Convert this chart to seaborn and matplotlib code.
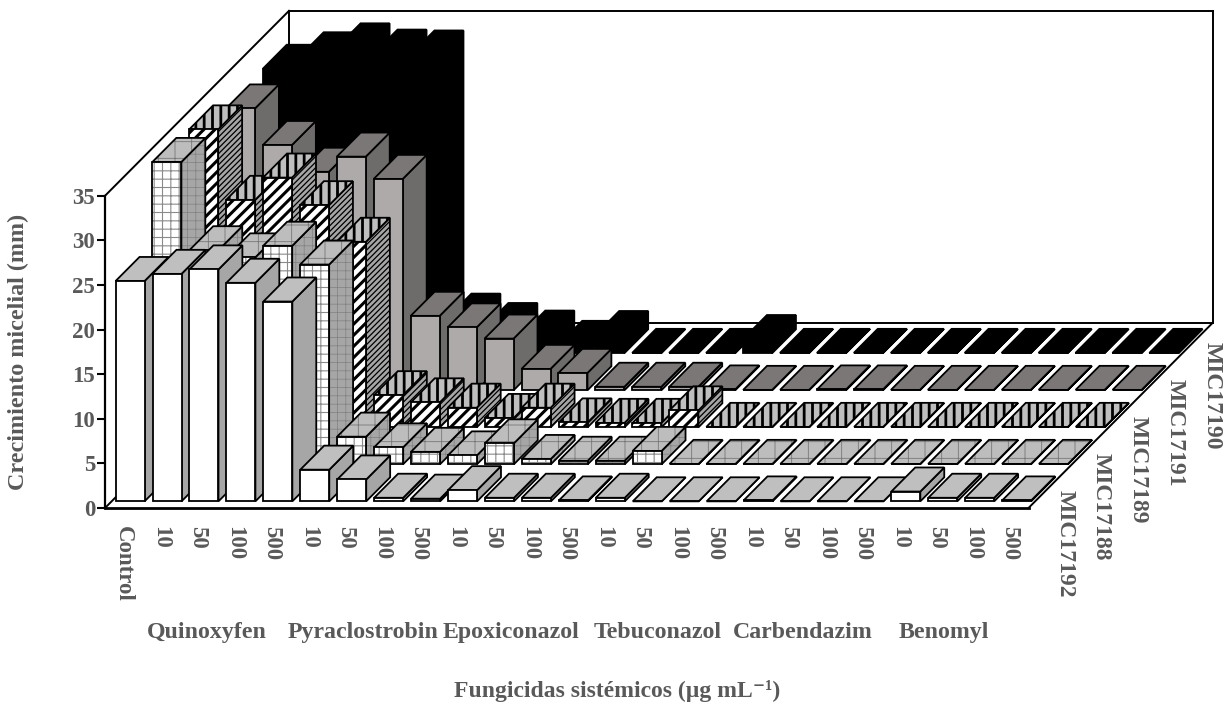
import matplotlib
matplotlib.use("Agg")
import matplotlib as mpl
import matplotlib.pyplot as plt
import pandas as pd
import seaborn as sns

doses = ["Control", "10", "50", "100", "500", "10", "50", "100", "500", "10", "50", "100", "500",
         "10", "50", "100", "500", "10", "50", "100", "500", "10", "50", "100", "500"]
fungicides = ["Quinoxyfen", "Pyraclostrobin", "Epoxiconazol", "Tebuconazol", "Carbendazim", "Benomyl"]
isolates = ["MIC17192", "MIC17188", "MIC17189", "MIC17191", "MIC17190"]

mic17192 = [24.7, 25.5, 26.0, 24.5, 22.4, 3.55, 2.45, 0.4, 0.3, 1.25, 0.4, 0.4, 0.1,
            0.4, 0, 0, 0, 0.1, 0, 0, 0, 1.1, 0.4, 0.4, 0.1]
mic17188 = [33.9, 24.0, 23.2, 24.5, 22.4, 3.1, 1.9, 1.4, 1.0, 2.35, 0.6, 0.4, 0.4,
            1.5, 0.05, 0.05, 0.05, 0.05, 0.05, 0.05, 0.05, 0.05, 0.05, 0.05, 0.05]
mic17189 = [33.4, 25.5, 28.0, 24.9, 20.8, 3.6, 2.8, 2.2, 1.05, 2.2, 0.55, 0.5, 0.5,
            1.9, 0.05, 0.05, 0.05, 0.05, 0.05, 0.05, 0.05, 0.05, 0.05, 0.05, 0.05]
mic17191 = [31.6, 27.5, 24.5, 26.2, 23.7, 8.35, 7.05, 5.8, 2.4, 1.95, 0.4, 0.4, 0.4,
            0.1, 0.05, 0.05, 0.1, 0.1, 0.05, 0.05, 0.05, 0.05, 0.05, 0.05, 0.05]
mic17190 = [31.9, 33.3, 34.3, 33.6, 33.5, 4.0, 2.95, 2.1, 0.95, 2.05, 0.05, 0.05, 0.05,
            1.6, 0.05, 0.05, 0.05, 0.05, 0.05, 0.05, 0.05, 0.05, 0.05, 0.05, 0.05]
series = [mic17192, mic17188, mic17189, mic17191, mic17190]

# oblique depth of one row, in axis units (slots and mm)
SLOT_PX, MM_PX = 36.94, 8.92
ROW_DX, ROW_DY = 36.8 / SLOT_PX, 37 / MM_PX
GAP, DEPTH = 0.18, 0.65
BAR_W = 0.785
INK = "#595959"

# (front, side, top) as colour + hatch + hatch colour + hatch width
styles = [
    (("white", "", None, 0), ("#a6a6a6", "", None, 0), ("#bfbfbf", "", None, 0)),
    (("white", "++", "#8a8a8a", 0.8), ("#a6a6a6", "++", "#808080", 0.5), ("#bdbdbd", "+", "#777777", 0.6)),
    (("white", "///", "black", 2.2), ("#a6a6a6", "//////", "black", 0.9), ("#bfbfbf", "||", "black", 2.0)),
    (("#aeaaaa", "", None, 0), ("#6e6b6b", "", None, 0), ("#7b7777", "", None, 0)),
    (("black", "", None, 0), ("black", "", None, 0), ("black", "", None, 0)),
]

sns.set_theme(style="white")
plt.rcParams["font.family"] = ["Liberation Serif", "DejaVu Sans"]


def style_patch(patch, spec, zorder):
    color, hatch, hatch_color, hatch_lw = spec
    patch.set_facecolor(color)
    patch.set_edgecolor("black")
    patch.set_linewidth(1.3)
    patch.set_zorder(zorder)
    if hatch:
        patch.set_hatch(hatch)
        patch._hatch_color = mpl.colors.to_rgba(hatch_color)
        patch._hatch_linewidth = hatch_lw
        draw = patch.draw

        def draw_with_width(renderer, draw=draw, width=hatch_lw):
            with mpl.rc_context({"hatch.linewidth": width}):
                draw(renderer)

        patch.draw = draw_with_width


fig = plt.figure(figsize=(12.25, 7.04), dpi=100)
ax = fig.add_axes([0, 0, 1, 1])
ax.patch.set_alpha(0)

n_rows = len(series)
n_cats = len(doses)
back_x, back_y = n_rows * ROW_DX, n_rows * ROW_DY

# walls and floor
walls = [
    ([0, back_x], [35, 35 + back_y]),
    ([back_x, back_x], [back_y, 35 + back_y]),
    ([back_x, back_x + n_cats], [35 + back_y, 35 + back_y]),
    ([back_x + n_cats, back_x + n_cats], [back_y, 35 + back_y]),
    ([back_x, back_x + n_cats], [back_y, back_y]),
    ([n_cats, back_x + n_cats], [0, back_y]),
    ([0, back_x], [0, back_y]),
]
for wx, wy in walls:
    ax.plot(wx, wy, color="black", lw=1.4, zorder=1, solid_capstyle="projecting")

# rows from the back wall to the front
for r in reversed(range(n_rows)):
    vals = series[r]
    x0 = [i + (1 - BAR_W) / 2 + (r + GAP) * ROW_DX for i in range(n_cats)]
    base = (r + GAP) * ROW_DY
    df = pd.DataFrame({"pos": [x + BAR_W / 2 for x in x0], "value": vals})
    n_before = len(ax.patches)
    sns.barplot(data=df, x="pos", y="value", native_scale=True, width=BAR_W, bottom=base,
                errorbar=None, saturation=1, color="white", ax=ax, legend=False)
    fronts = ax.patches[n_before:]
    front_spec, side_spec, top_spec = styles[r]
    dx, dy = DEPTH * ROW_DX, DEPTH * ROW_DY
    for i, (bar, v) in enumerate(zip(fronts, vals)):
        z = 10 + (n_rows - r) * 1000 + i * 4
        left, right = x0[i], x0[i] + BAR_W
        low, high = base, base + v
        side = ax.fill([right, right + dx, right + dx, right],
                       [low, low + dy, high + dy, high])[0]
        top = ax.fill([left, right, right + dx, left + dx],
                      [high, high, high + dy, high + dy])[0]
        style_patch(side, side_spec, z)
        style_patch(top, top_spec, z + 1)
        style_patch(bar, front_spec, z + 2)

# row names along the right edge of the floor
for r, name in enumerate(isolates):
    ax.text(n_cats + (r + 0.5) * ROW_DX + 0.48, (r + 0.5) * ROW_DY - 0.05, name,
            rotation=-90, ha="center", va="top", fontsize=17, fontweight="bold", color=INK)

# fungicide names under the doses
group_x = [2.76, 6.99, 11.0, 14.97, 18.9, 22.7]
for gx, name in zip(group_x, fungicides):
    ax.text(gx, -14.0, name, ha="center", va="center", fontsize=17.2, fontweight="bold", color=INK)

ax.set_xlim(-105 / SLOT_PX, (1225 - 105) / SLOT_PX)
ax.set_ylim((508 - 704) / MM_PX, 508 / MM_PX)

for name in ["top", "right"]:
    ax.spines[name].set_visible(False)
ax.spines["left"].set_position(("data", 0))
ax.spines["bottom"].set_position(("data", 0))
ax.spines["left"].set_bounds(0, 35)
ax.spines["bottom"].set_bounds(0, n_cats)
ax.spines["left"].set_color("black")
ax.spines["bottom"].set_color("black")
ax.spines["left"].set_linewidth(1.6)
ax.spines["bottom"].set_linewidth(2.0)
ax.spines["left"].set_zorder(20000)
ax.spines["bottom"].set_zorder(20000)

ax.set_yticks(range(0, 40, 5))
ax.tick_params(axis="y", left=True, length=6, width=1.5, color="black", pad=1, labelcolor=INK, labelsize=16.5)
ax.set_xticks([i + 0.5 for i in range(n_cats)])
ax.set_xticklabels(doses, rotation=-90, ha="center", va="top", fontweight="bold")
ax.tick_params(axis="x", bottom=False, length=0, pad=13, labelcolor=INK, labelsize=16.5)
for lab in ax.get_yticklabels():
    lab.set_fontweight("bold")

ax.set_ylabel("Crecimiento micelial (mm)", fontsize=17.4, fontweight="bold", color=INK)
ax.yaxis.set_label_coords(18 / 1225, 1 - 352 / 704)
ax.set_xlabel("Fungicidas sistémicos (µg mL⁻¹)", fontsize=17, fontweight="bold", color=INK)
ax.xaxis.set_label_coords(617 / 1225, 1 - 691 / 704)
ax.xaxis.label.set_va("center")
ax.yaxis.label.set_va("center")

fig.savefig("out.png", dpi=100)
